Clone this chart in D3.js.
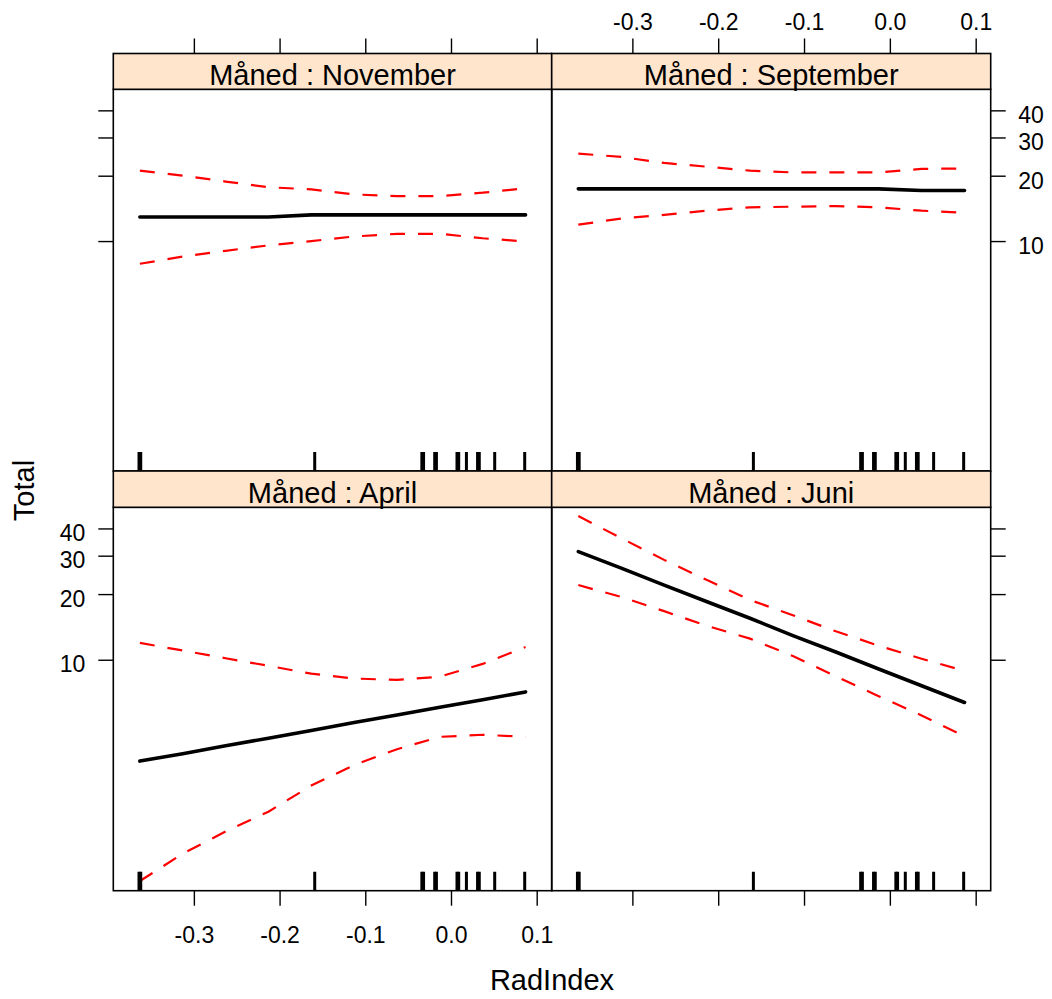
<!DOCTYPE html>
<html>
<head>
<meta charset="utf-8">
<script src="https://cdn.jsdelivr.net/npm/d3@7"></script>
<style>
  html, body { margin: 0; padding: 0; background: #ffffff; }
  svg { display: block; }
  text { font-family: "Liberation Sans", Arial, Helvetica, sans-serif; fill: #000; }
</style>
</head>
<body>
<script>
// ---------------- data ----------------
const months = ["November", "September", "April", "Juni"];
const stripPrefix = "Måned : ";
const xLabel = "RadIndex";
const yLabel = "Total";

const xGrid = [-0.363, -0.313, -0.263, -0.213, -0.163, -0.113, -0.063, -0.013, 0.037, 0.087];

const fitNovember   = [12.9, 12.9, 12.9, 12.9, 13.2, 13.2, 13.2, 13.2, 13.2, 13.2];
const upperNovember = [21.1, 20.0, 18.8, 17.7, 17.3, 16.4, 16.1, 16.1, 16.7, 17.5];
const lowerNovember = [7.86, 8.48, 9.02, 9.55, 10.0, 10.5, 10.8, 10.8, 10.3, 9.96];

const fitSeptember   = [17.4, 17.4, 17.4, 17.4, 17.4, 17.4, 17.4, 17.4, 17.1, 17.1];
const upperSeptember = [25.3, 24.4, 22.9, 22.0, 21.1, 20.7, 20.7, 20.7, 21.5, 21.6];
const lowerSeptember = [11.9, 12.7, 13.2, 13.8, 14.3, 14.4, 14.5, 14.3, 13.8, 13.5];

const fitApril   = [3.43, 3.71, 4.03, 4.37, 4.74, 5.15, 5.58, 6.05, 6.56, 7.12];
const upperApril = [11.95, 11.02, 10.16, 9.38, 8.63, 8.20, 8.08, 8.36, 9.57, 11.44];
const lowerApril = [0.967, 1.29, 1.63, 2.01, 2.65, 3.29, 3.89, 4.43, 4.53, 4.43];

const fitJuni   = [31.3, 26.3, 22.0, 18.45, 15.5, 12.9, 10.85, 9.07, 7.60, 6.37];
const upperJuni = [45.6, 36.1, 28.7, 23.2, 18.8, 16.0, 13.5, 11.6, 10.1, 8.89];
const lowerJuni = [22.0, 19.4, 16.7, 14.3, 12.5, 10.4, 8.40, 6.81, 5.55, 4.45];

const rugRadIndex = [-0.364, -0.362, -0.159, -0.034, -0.032, -0.019, -0.017,
                     0.007, 0.009, 0.018, 0.031, 0.033, 0.051, 0.086];

const xTicks = [-0.3, -0.2, -0.1, 0.0, 0.1];
const xTickLabels = ["-0.3", "-0.2", "-0.1", "0.0", "0.1"];
const yTicks = [10, 20, 30, 40];
const yTickLabels = ["10", "20", "30", "40"];

const xDomain = [-0.394, 0.1175];
const yDomain = [0.873, 50];

// ---------------- layout ----------------
const W = 1052, H = 999;
const cols = [[113.3, 551.7], [551.7, 990.7]];
const rows = [
  { stripTop: 53.5, top: 89.3, bottom: 471 },
  { stripTop: 471, top: 507.3, bottom: 890.7 }
];
const tickLen = 15;
const tickFont = 23;

const panels = [
  { month: months[0], col: 0, row: 0, fit: fitNovember, upper: upperNovember, lower: lowerNovember,
    top: "ticks", bottom: null, left: "ticks", right: null },
  { month: months[1], col: 1, row: 0, fit: fitSeptember, upper: upperSeptember, lower: lowerSeptember,
    top: "labels", bottom: null, left: null, right: "labels" },
  { month: months[2], col: 0, row: 1, fit: fitApril, upper: upperApril, lower: lowerApril,
    top: null, bottom: "labels", left: "labels", right: null },
  { month: months[3], col: 1, row: 1, fit: fitJuni, upper: upperJuni, lower: lowerJuni,
    top: null, bottom: "ticks", left: null, right: "ticks" }
];

const svg = d3.select("body").append("svg")
  .attr("width", W).attr("height", H)
  .attr("viewBox", `0 0 ${W} ${H}`);

svg.append("rect").attr("width", W).attr("height", H).attr("fill", "#fff");

const defs = svg.append("defs");

panels.forEach((p, i) => {
  const R = rows[p.row];
  const C = cols[p.col];
  const x = d3.scaleLinear().domain(xDomain).range(C);
  const y = d3.scaleLog().domain(yDomain).range([R.bottom, R.top]);
  const g = svg.append("g");

  defs.append("clipPath").attr("id", "clip" + i)
    .append("rect").attr("x", C[0]).attr("y", R.top)
    .attr("width", C[1] - C[0]).attr("height", R.bottom - R.top);

  const plot = g.append("g").attr("clip-path", `url(#clip${i})`);

  const line = d3.line().x((d, k) => x(xGrid[k])).y(d => y(d));

  // confidence bands
  [p.upper, p.lower].forEach(arr => {
    plot.append("path").datum(arr)
      .attr("d", line)
      .attr("fill", "none")
      .attr("stroke", "#ff0000")
      .attr("stroke-width", 2.2)
      .attr("stroke-dasharray", "15,13");
  });
  // fit
  plot.append("path").datum(p.fit)
    .attr("d", line)
    .attr("fill", "none")
    .attr("stroke", "#000")
    .attr("stroke-width", 3.6)
    .attr("stroke-linecap", "round")
    .attr("stroke-linejoin", "round");

  // rug
  plot.selectAll("line.rug").data(rugRadIndex).enter().append("line")
    .attr("class", "rug")
    .attr("x1", d => x(d)).attr("x2", d => x(d))
    .attr("y1", R.bottom).attr("y2", R.bottom - 19)
    .attr("stroke", "#000").attr("stroke-width", 3);

  // panel border
  g.append("rect")
    .attr("x", C[0]).attr("y", R.top)
    .attr("width", C[1] - C[0]).attr("height", R.bottom - R.top)
    .attr("fill", "none").attr("stroke", "#000").attr("stroke-width", 1.6);

  // strip
  g.append("rect")
    .attr("x", C[0]).attr("y", R.stripTop)
    .attr("width", C[1] - C[0]).attr("height", R.top - R.stripTop)
    .attr("fill", "#ffe5cc").attr("stroke", "#000").attr("stroke-width", 1.6);
  g.append("text")
    .attr("x", (C[0] + C[1]) / 2).attr("y", R.top - 4.5)
    .attr("text-anchor", "middle")
    .attr("font-size", 29)
    .text(stripPrefix + p.month);

  // axes
  const styleAxis = (sel) => {
    sel.select(".domain").remove();
    sel.selectAll(".tick line").attr("stroke", "#000").attr("stroke-width", 1.4);
    sel.selectAll(".tick text").attr("font-size", tickFont)
      .attr("font-family", "'Liberation Sans', Arial, sans-serif").attr("fill", "#000");
  };
  const xFmt = (labels) => (d) => labels ? xTickLabels[xTicks.indexOf(d)] : "";
  const yFmt = (labels) => (d) => labels ? yTickLabels[yTicks.indexOf(d)] : "";

  if (p.top) {
    const a = g.append("g").attr("transform", `translate(0,${R.stripTop})`)
      .call(d3.axisTop(x).tickValues(xTicks).tickSize(tickLen).tickPadding(9)
        .tickFormat(xFmt(p.top === "labels")));
    styleAxis(a);
  }
  if (p.bottom) {
    const a = g.append("g").attr("transform", `translate(0,${R.bottom})`)
      .call(d3.axisBottom(x).tickValues(xTicks).tickSize(tickLen).tickPadding(21)
        .tickFormat(xFmt(p.bottom === "labels")));
    styleAxis(a);
  }
  if (p.left) {
    const a = g.append("g").attr("transform", `translate(${C[0]},0)`)
      .call(d3.axisLeft(y).tickValues(yTicks).tickSize(tickLen).tickPadding(13)
        .tickFormat(yFmt(p.left === "labels")));
    styleAxis(a);
    a.selectAll(".tick text").attr("dy", "0.52em");
  }
  if (p.right) {
    const a = g.append("g").attr("transform", `translate(${C[1]},0)`)
      .call(d3.axisRight(y).tickValues(yTicks).tickSize(tickLen).tickPadding(12.5)
        .tickFormat(yFmt(p.right === "labels")));
    styleAxis(a);
    a.selectAll(".tick text").attr("dy", "0.54em");
  }
});

// axis titles
svg.append("text")
  .attr("x", (cols[0][0] + cols[1][1]) / 2).attr("y", 990)
  .attr("text-anchor", "middle").attr("font-size", 29)
  .text(xLabel);

svg.append("text")
  .attr("transform", "translate(33.5,490.5) rotate(-90)")
  .attr("text-anchor", "middle").attr("font-size", 29)
  .text(yLabel);
</script>
</body>
</html>
